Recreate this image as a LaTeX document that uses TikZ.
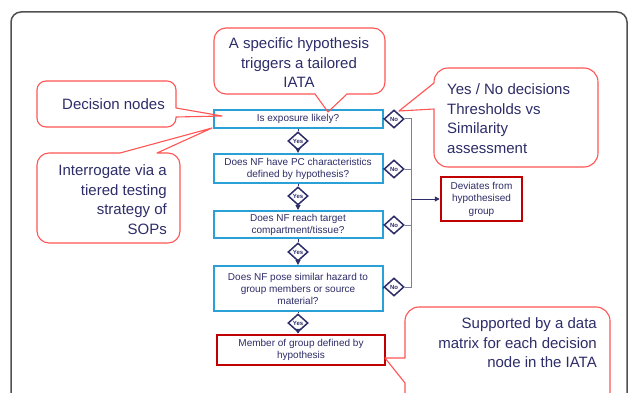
\documentclass[tikz,border=0pt]{standalone}
\usepackage{fontspec}
\setmainfont{Liberation Sans}
\usetikzlibrary{shapes.geometric,arrows.meta}
\definecolor{qblue}{RGB}{41,161,214}
\definecolor{navy}{RGB}{45,45,105}
\definecolor{dred}{RGB}{192,0,0}
\definecolor{cred}{RGB}{255,85,85}
\definecolor{busgrey}{RGB}{125,125,165}
\definecolor{framegrey}{RGB}{80,80,80}
\begin{document}
\begin{tikzpicture}[x=1pt,y=-1pt,
qbox/.style={draw=qblue,line width=2pt,minimum width=169pt,align=center,text=navy,font=\fontsize{10}{12}\selectfont},
obox/.style={draw=dred,line width=2.5pt,align=center,text=navy,font=\fontsize{10}{12.5}\selectfont},
yn/.style={diamond,draw=navy,fill=white,line width=1.5pt,minimum width=20pt,minimum height=18pt,text=navy,font=\fontsize{6}{6}\selectfont\bfseries},
ctext/.style={text=navy,font=\fontsize{15}{19.5}\selectfont},
calloutline/.style={draw=cred,line width=1.1pt,line join=round},
link/.style={draw=navy,line width=1pt},
yesarrow/.style={link,-{Triangle[length=5pt,width=5pt]}},
noline/.style={draw=busgrey,line width=1pt}]
\tikzstyle{every node}+=[inner sep=0pt]
\useasboundingbox (0,0) rectangle (629,393);
\fill [white] (0,0) rectangle (629,393);
\clip (0,0) rectangle (629,393);
\draw [framegrey,line width=1.5pt] (11,420) [rounded corners=10pt] -- (11,12) -- (627,12) -- (627,420);
\node [qbox,minimum height=18pt] (q1) at (298,119) {Is exposure likely?};
\node [qbox,minimum height=29pt] (q2) at (298,168.5) {Does NF have PC characteristics\\defined by hypothesis?};
\node [qbox,minimum height=27pt] (q3) at (298,224.5) {Does NF reach target\\compartment/tissue?};
\node [qbox,minimum height=45pt] (q4) at (298,288.5) {Does NF pose similar hazard to\\group members or source\\material?};
\node [obox,minimum width=168pt,minimum height=30pt] (member) at (301,350) {Member of group defined by\\hypothesis};
\node [obox,minimum width=81pt,minimum height=44pt] (dev) at (481.5,199) {Deviates from\\hypothesised\\group};
\node [yn] (y1) at (298,141) {Yes};
\node [yn] (y2) at (298,196) {Yes};
\node [yn] (y3) at (298,252) {Yes};
\node [yn] (y4) at (298,323) {Yes};
\node [yn] (n1) at (394,119) {No};
\node [yn] (n2) at (394,169) {No};
\node [yn] (n3) at (394,225) {No};
\node [yn] (n4) at (394,287) {No};
\draw [link] (q1.south) -- (y1.north);
\draw [link] (q2.south) -- (y2.north);
\draw [link] (q3.south) -- (y3.north);
\draw [link] (q4.south) -- (y4.north);
\draw [yesarrow] (y1.south) -- (q2.north);
\draw [yesarrow] (y2.south) -- (q3.north);
\draw [yesarrow] (y3.south) -- (q4.north);
\draw [yesarrow] (y4.south) -- (y4.south |- member.north);
\draw [link] (q1.east) -- (n1.west);
\draw [link] (q2.east) -- (n2.west);
\draw [link] (q3.east) -- (n3.west);
\draw [link] (q4.east) -- (n4.west);
\coordinate (bus) at (411,199);
\draw [noline] (n1.east) -- (n1.east -| bus) -- (n4.east -| bus) -- (n4.east);
\draw [noline] (n2.east) -- (n2.east -| bus);
\draw [noline] (n3.east) -- (n3.east -| bus);
\draw [yesarrow] (bus) -- (dev.west);
\node [ctext,align=center] (hyp) at (299,63) {A specific hypothesis\\triggers a tailored\\IATA};
\node [ctext,anchor=east] (dec) at (165,104) {Decision nodes};
\node [ctext,align=right,anchor=east] (tier) at (167,199.5) {Interrogate via a\\tiered testing\\strategy of\\SOPs};
\node [ctext,align=left,anchor=west] (yesno) at (447,118.5) {Yes / No decisions\\Thresholds vs\\Similarity\\assessment};
\node [ctext,align=right,anchor=east] (supp) at (597,343) {Supported by a data\\matrix for each decision\\node in the IATA};
\coordinate (hyptip) at (328,112);
\coordinate (dectip) at (222,116);
\coordinate (tiertip) at (212,128);
\coordinate (yesnotip) at (399,111);
\coordinate (supptip) at (385,358);
\draw [calloutline] (347,94) [rounded corners=12pt] -- (385,94) -- (385,28) -- (214,28) -- (214,94) [sharp corners] -- (315,94) -- (hyptip) -- cycle;
\draw [calloutline] (176,117) [rounded corners=9pt] -- (176,127) -- (37,127) -- (37,81) -- (176,81) [sharp corners] -- (176,108) -- (dectip) -- cycle;
\draw [calloutline] (157,153) [rounded corners=12pt] -- (180,153) -- (180,243) -- (37,243) -- (37,153) [sharp corners] -- (120,153) -- (tiertip) -- cycle;
\draw [calloutline] (434,109) [rounded corners=14pt] -- (434,167) -- (598,167) -- (598,68) -- (434,68) [sharp corners] -- (434,83) -- (yesnotip) -- cycle;
\draw [calloutline] (405,383) [rounded corners=14pt] -- (405,440) -- (610,440) -- (610,307) -- (405,307) [sharp corners] -- (405,358) -- (supptip) -- cycle;
\end{tikzpicture}
\end{document}
